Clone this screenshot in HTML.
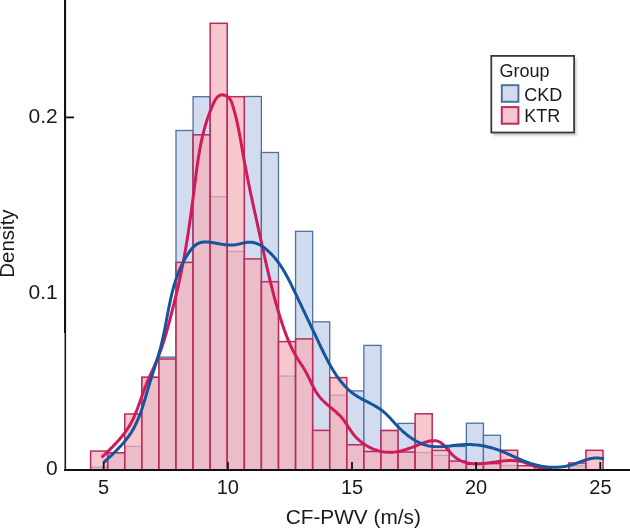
<!DOCTYPE html>
<html><head><meta charset="utf-8"><style>
html,body{margin:0;padding:0;background:#fff;width:630px;height:529px;overflow:hidden;position:relative}
</style></head><body>
<svg width="630" height="529" viewBox="0 0 630 529" style="position:absolute;left:0;top:0;will-change:transform">
<rect width="630" height="529" fill="#ffffff"/>
<rect x="90.60" y="467.30" width="17.08" height="2.70" fill="#d2dcee" stroke="#4d72a2" stroke-width="1.3"/>
<rect x="107.68" y="452.80" width="17.08" height="17.20" fill="#d2dcee" stroke="#4d72a2" stroke-width="1.3"/>
<rect x="124.76" y="446.40" width="17.08" height="23.60" fill="#d2dcee" stroke="#4d72a2" stroke-width="1.3"/>
<rect x="141.84" y="377.30" width="17.08" height="92.70" fill="#d2dcee" stroke="#4d72a2" stroke-width="1.3"/>
<rect x="158.92" y="357.10" width="17.08" height="112.90" fill="#d2dcee" stroke="#4d72a2" stroke-width="1.3"/>
<rect x="176.00" y="130.50" width="17.08" height="339.50" fill="#d2dcee" stroke="#4d72a2" stroke-width="1.3"/>
<rect x="193.08" y="96.70" width="17.08" height="373.30" fill="#d2dcee" stroke="#4d72a2" stroke-width="1.3"/>
<rect x="210.16" y="196.70" width="17.08" height="273.30" fill="#d2dcee" stroke="#4d72a2" stroke-width="1.3"/>
<rect x="227.24" y="251.50" width="17.08" height="218.50" fill="#d2dcee" stroke="#4d72a2" stroke-width="1.3"/>
<rect x="244.32" y="96.50" width="17.08" height="373.50" fill="#d2dcee" stroke="#4d72a2" stroke-width="1.3"/>
<rect x="261.40" y="152.50" width="17.08" height="317.50" fill="#d2dcee" stroke="#4d72a2" stroke-width="1.3"/>
<rect x="278.48" y="376.10" width="17.08" height="93.90" fill="#d2dcee" stroke="#4d72a2" stroke-width="1.3"/>
<rect x="295.56" y="231.30" width="17.08" height="238.70" fill="#d2dcee" stroke="#4d72a2" stroke-width="1.3"/>
<rect x="312.64" y="321.80" width="17.08" height="148.20" fill="#d2dcee" stroke="#4d72a2" stroke-width="1.3"/>
<rect x="329.72" y="395.20" width="17.08" height="74.80" fill="#d2dcee" stroke="#4d72a2" stroke-width="1.3"/>
<rect x="346.80" y="390.90" width="17.08" height="79.10" fill="#d2dcee" stroke="#4d72a2" stroke-width="1.3"/>
<rect x="363.88" y="345.40" width="17.08" height="124.60" fill="#d2dcee" stroke="#4d72a2" stroke-width="1.3"/>
<rect x="380.96" y="430.50" width="17.08" height="39.50" fill="#d2dcee" stroke="#4d72a2" stroke-width="1.3"/>
<rect x="398.04" y="423.40" width="17.08" height="46.60" fill="#d2dcee" stroke="#4d72a2" stroke-width="1.3"/>
<rect x="415.12" y="452.50" width="17.08" height="17.50" fill="#d2dcee" stroke="#4d72a2" stroke-width="1.3"/>
<rect x="432.20" y="455.50" width="17.08" height="14.50" fill="#d2dcee" stroke="#4d72a2" stroke-width="1.3"/>
<rect x="449.28" y="446.50" width="17.08" height="23.50" fill="#d2dcee" stroke="#4d72a2" stroke-width="1.3"/>
<rect x="466.36" y="423.20" width="17.08" height="46.80" fill="#d2dcee" stroke="#4d72a2" stroke-width="1.3"/>
<rect x="483.44" y="435.30" width="17.08" height="34.70" fill="#d2dcee" stroke="#4d72a2" stroke-width="1.3"/>
<rect x="500.52" y="465.50" width="17.08" height="4.50" fill="#d2dcee" stroke="#4d72a2" stroke-width="1.3"/>
<rect x="568.84" y="465.80" width="17.08" height="4.20" fill="#d2dcee" stroke="#4d72a2" stroke-width="1.3"/>
<rect x="90.60" y="451.10" width="17.08" height="18.90" fill="rgba(243,178,186,0.72)" stroke="#bc2a5e" stroke-width="1.5"/>
<rect x="107.68" y="452.80" width="17.08" height="17.20" fill="rgba(243,178,186,0.72)" stroke="#bc2a5e" stroke-width="1.5"/>
<rect x="124.76" y="414.00" width="17.08" height="56.00" fill="rgba(243,178,186,0.72)" stroke="#bc2a5e" stroke-width="1.5"/>
<rect x="141.84" y="377.30" width="17.08" height="92.70" fill="rgba(243,178,186,0.72)" stroke="#bc2a5e" stroke-width="1.5"/>
<rect x="158.92" y="359.00" width="17.08" height="111.00" fill="rgba(243,178,186,0.72)" stroke="#bc2a5e" stroke-width="1.5"/>
<rect x="176.00" y="262.40" width="17.08" height="207.60" fill="rgba(243,178,186,0.72)" stroke="#bc2a5e" stroke-width="1.5"/>
<rect x="193.08" y="134.80" width="17.08" height="335.20" fill="rgba(243,178,186,0.72)" stroke="#bc2a5e" stroke-width="1.5"/>
<rect x="210.16" y="23.30" width="17.08" height="446.70" fill="rgba(243,178,186,0.72)" stroke="#bc2a5e" stroke-width="1.5"/>
<rect x="227.24" y="96.70" width="17.08" height="373.30" fill="rgba(243,178,186,0.72)" stroke="#bc2a5e" stroke-width="1.5"/>
<rect x="244.32" y="258.90" width="17.08" height="211.10" fill="rgba(243,178,186,0.72)" stroke="#bc2a5e" stroke-width="1.5"/>
<rect x="261.40" y="281.70" width="17.08" height="188.30" fill="rgba(243,178,186,0.72)" stroke="#bc2a5e" stroke-width="1.5"/>
<rect x="278.48" y="341.60" width="17.08" height="128.40" fill="rgba(243,178,186,0.72)" stroke="#bc2a5e" stroke-width="1.5"/>
<rect x="295.56" y="338.90" width="17.08" height="131.10" fill="rgba(243,178,186,0.72)" stroke="#bc2a5e" stroke-width="1.5"/>
<rect x="312.64" y="430.40" width="17.08" height="39.60" fill="rgba(243,178,186,0.72)" stroke="#bc2a5e" stroke-width="1.5"/>
<rect x="329.72" y="377.60" width="17.08" height="92.40" fill="rgba(243,178,186,0.72)" stroke="#bc2a5e" stroke-width="1.5"/>
<rect x="346.80" y="444.80" width="17.08" height="25.20" fill="rgba(243,178,186,0.72)" stroke="#bc2a5e" stroke-width="1.5"/>
<rect x="363.88" y="451.50" width="17.08" height="18.50" fill="rgba(243,178,186,0.72)" stroke="#bc2a5e" stroke-width="1.5"/>
<rect x="380.96" y="430.50" width="17.08" height="39.50" fill="rgba(243,178,186,0.72)" stroke="#bc2a5e" stroke-width="1.5"/>
<rect x="398.04" y="452.00" width="17.08" height="18.00" fill="rgba(243,178,186,0.72)" stroke="#bc2a5e" stroke-width="1.5"/>
<rect x="415.12" y="413.80" width="17.08" height="56.20" fill="rgba(243,178,186,0.72)" stroke="#bc2a5e" stroke-width="1.5"/>
<rect x="432.20" y="450.40" width="17.08" height="19.60" fill="rgba(243,178,186,0.72)" stroke="#bc2a5e" stroke-width="1.5"/>
<rect x="449.28" y="461.10" width="17.08" height="8.90" fill="rgba(243,178,186,0.72)" stroke="#bc2a5e" stroke-width="1.5"/>
<rect x="466.36" y="464.30" width="17.08" height="5.70" fill="rgba(243,178,186,0.72)" stroke="#bc2a5e" stroke-width="1.5"/>
<rect x="483.44" y="463.60" width="17.08" height="6.40" fill="rgba(243,178,186,0.72)" stroke="#bc2a5e" stroke-width="1.5"/>
<rect x="500.52" y="450.30" width="17.08" height="19.70" fill="rgba(243,178,186,0.72)" stroke="#bc2a5e" stroke-width="1.5"/>
<rect x="517.60" y="465.70" width="17.08" height="4.30" fill="rgba(243,178,186,0.72)" stroke="#bc2a5e" stroke-width="1.5"/>
<rect x="568.84" y="463.00" width="17.08" height="7.00" fill="rgba(243,178,186,0.72)" stroke="#bc2a5e" stroke-width="1.5"/>
<rect x="585.92" y="450.30" width="17.08" height="19.70" fill="rgba(243,178,186,0.72)" stroke="#bc2a5e" stroke-width="1.5"/>
<path d="M101.69,457.33 L102.69,456.40 L103.69,455.46 L104.70,454.51 L105.70,453.55 L106.71,452.59 L107.71,451.63 L108.71,450.65 L109.72,449.67 L110.71,448.68 L111.71,447.68 L112.69,446.68 L113.68,445.66 L114.65,444.64 L115.62,443.61 L116.58,442.57 L117.53,441.53 L118.47,440.47 L119.40,439.41 L120.32,438.33 L121.22,437.25 L122.11,436.16 L122.99,435.05 L123.85,433.94 L124.69,432.82 L125.52,431.68 L126.33,430.54 L127.12,429.39 L127.89,428.22 L128.64,427.04 L129.37,425.86 L130.08,424.66 L130.76,423.44 L131.42,422.22 L132.06,420.99 L132.69,419.75 L133.29,418.50 L133.88,417.24 L134.45,415.97 L135.01,414.69 L135.55,413.41 L136.08,412.12 L136.60,410.82 L137.10,409.52 L137.60,408.21 L138.09,406.90 L138.58,405.59 L139.05,404.27 L139.52,402.95 L139.99,401.63 L140.46,400.30 L140.92,398.97 L141.38,397.65 L141.85,396.32 L142.31,394.99 L142.78,393.67 L143.26,392.34 L143.73,391.02 L144.22,389.70 L144.71,388.38 L145.21,387.07 L145.72,385.76 L146.24,384.45 L146.77,383.15 L147.31,381.86 L147.86,380.57 L148.42,379.28 L148.98,377.99 L149.55,376.71 L150.13,375.43 L150.70,374.15 L151.28,372.88 L151.86,371.60 L152.44,370.33 L153.02,369.05 L153.60,367.77 L154.17,366.49 L154.74,365.21 L155.30,363.93 L155.86,362.65 L156.41,361.36 L156.95,360.07 L157.48,358.77 L158.00,357.48 L158.51,356.18 L159.01,354.87 L159.50,353.56 L159.99,352.25 L160.47,350.94 L160.94,349.62 L161.40,348.30 L161.86,346.98 L162.31,345.66 L162.75,344.33 L163.18,343.00 L163.61,341.67 L164.04,340.33 L164.45,339.00 L164.86,337.66 L165.27,336.32 L165.67,334.98 L166.06,333.63 L166.46,332.29 L166.84,330.94 L167.22,329.60 L167.60,328.25 L167.97,326.90 L168.34,325.54 L168.71,324.19 L169.07,322.84 L169.43,321.48 L169.78,320.13 L170.14,318.77 L170.49,317.42 L170.84,316.06 L171.19,314.71 L171.53,313.35 L171.88,311.99 L172.22,310.63 L172.56,309.28 L172.90,307.92 L173.24,306.56 L173.58,305.21 L173.91,303.85 L174.25,302.49 L174.58,301.13 L174.91,299.78 L175.25,298.42 L175.57,297.06 L175.90,295.70 L176.23,294.35 L176.55,292.99 L176.87,291.63 L177.19,290.27 L177.51,288.91 L177.83,287.55 L178.14,286.19 L178.45,284.83 L178.76,283.47 L179.07,282.10 L179.37,280.74 L179.67,279.38 L179.97,278.01 L180.27,276.65 L180.56,275.28 L180.85,273.91 L181.14,272.54 L181.42,271.17 L181.70,269.80 L181.98,268.43 L182.26,267.06 L182.53,265.69 L182.80,264.31 L183.06,262.94 L183.33,261.56 L183.59,260.18 L183.84,258.81 L184.10,257.43 L184.35,256.05 L184.60,254.67 L184.85,253.29 L185.09,251.91 L185.33,250.53 L185.57,249.14 L185.81,247.76 L186.04,246.38 L186.28,244.99 L186.51,243.61 L186.73,242.22 L186.96,240.83 L187.18,239.45 L187.40,238.06 L187.62,236.67 L187.84,235.29 L188.06,233.90 L188.27,232.51 L188.48,231.12 L188.69,229.73 L188.90,228.34 L189.10,226.95 L189.31,225.56 L189.51,224.17 L189.71,222.78 L189.91,221.39 L190.11,220.00 L190.30,218.61 L190.50,217.22 L190.69,215.83 L190.88,214.44 L191.07,213.05 L191.26,211.66 L191.45,210.27 L191.64,208.88 L191.82,207.49 L192.01,206.10 L192.19,204.71 L192.38,203.32 L192.56,201.93 L192.74,200.54 L192.92,199.15 L193.10,197.76 L193.28,196.37 L193.45,194.98 L193.63,193.59 L193.81,192.21 L193.98,190.82 L194.16,189.43 L194.33,188.05 L194.51,186.66 L194.68,185.27 L194.85,183.89 L195.03,182.51 L195.20,181.12 L195.37,179.74 L195.55,178.36 L195.72,176.97 L195.90,175.59 L196.08,174.21 L196.25,172.83 L196.44,171.45 L196.62,170.07 L196.80,168.69 L196.99,167.31 L197.18,165.94 L197.38,164.56 L197.58,163.18 L197.78,161.81 L197.98,160.43 L198.19,159.06 L198.41,157.68 L198.62,156.31 L198.85,154.94 L199.08,153.57 L199.31,152.19 L199.55,150.82 L199.80,149.45 L200.05,148.08 L200.31,146.71 L200.57,145.34 L200.85,143.98 L201.13,142.61 L201.41,141.24 L201.71,139.88 L202.01,138.51 L202.32,137.15 L202.64,135.78 L202.97,134.42 L203.31,133.06 L203.66,131.69 L204.01,130.33 L204.38,128.97 L204.75,127.61 L205.14,126.25 L205.54,124.89 L205.95,123.54 L206.37,122.18 L206.80,120.82 L207.24,119.47 L207.69,118.11 L208.16,116.76 L208.64,115.40 L209.13,114.05 L209.63,112.70 L210.15,111.35 L210.68,109.99 L211.22,108.64 L211.78,107.29 L212.35,105.95 L212.94,104.60 L213.54,103.25 L214.17,101.94 L214.83,100.66 L215.53,99.46 L216.28,98.35 L217.08,97.35 L217.95,96.48 L218.89,95.78 L219.91,95.25 L221.03,94.92 L222.24,94.82 L223.54,94.96 L224.89,95.31 L226.22,95.86 L227.48,96.60 L228.62,97.49 L229.59,98.53 L230.39,99.68 L231.05,100.92 L231.60,102.24 L232.08,103.60 L232.52,104.97 L232.95,106.36 L233.36,107.74 L233.76,109.11 L234.15,110.49 L234.53,111.87 L234.90,113.25 L235.26,114.63 L235.61,116.00 L235.95,117.38 L236.28,118.76 L236.60,120.13 L236.92,121.51 L237.23,122.88 L237.53,124.25 L237.82,125.63 L238.11,127.00 L238.39,128.37 L238.67,129.75 L238.94,131.12 L239.21,132.49 L239.47,133.86 L239.72,135.23 L239.98,136.61 L240.23,137.98 L240.48,139.35 L240.72,140.72 L240.96,142.09 L241.21,143.46 L241.44,144.83 L241.68,146.20 L241.92,147.57 L242.16,148.94 L242.39,150.31 L242.63,151.68 L242.87,153.05 L243.11,154.42 L243.35,155.79 L243.60,157.17 L243.84,158.54 L244.09,159.91 L244.34,161.28 L244.59,162.65 L244.85,164.02 L245.10,165.39 L245.36,166.77 L245.62,168.14 L245.88,169.51 L246.15,170.88 L246.41,172.25 L246.68,173.63 L246.95,175.00 L247.22,176.37 L247.49,177.74 L247.77,179.12 L248.05,180.49 L248.32,181.86 L248.60,183.23 L248.88,184.61 L249.16,185.98 L249.45,187.35 L249.73,188.73 L250.02,190.10 L250.30,191.47 L250.59,192.84 L250.88,194.22 L251.17,195.59 L251.46,196.96 L251.76,198.34 L252.05,199.71 L252.34,201.08 L252.64,202.45 L252.94,203.83 L253.23,205.20 L253.53,206.57 L253.83,207.94 L254.13,209.32 L254.43,210.69 L254.73,212.06 L255.03,213.43 L255.33,214.80 L255.63,216.18 L255.93,217.55 L256.24,218.92 L256.54,220.29 L256.84,221.66 L257.14,223.03 L257.45,224.41 L257.75,225.78 L258.05,227.15 L258.36,228.52 L258.66,229.89 L258.97,231.26 L259.27,232.63 L259.57,234.00 L259.88,235.37 L260.18,236.74 L260.48,238.11 L260.78,239.48 L261.09,240.85 L261.39,242.21 L261.69,243.58 L261.99,244.95 L262.29,246.32 L262.59,247.69 L262.90,249.05 L263.20,250.42 L263.50,251.79 L263.80,253.15 L264.10,254.52 L264.41,255.89 L264.71,257.25 L265.02,258.62 L265.32,259.98 L265.63,261.35 L265.94,262.71 L266.24,264.08 L266.55,265.44 L266.87,266.80 L267.18,268.16 L267.49,269.53 L267.81,270.89 L268.12,272.25 L268.44,273.61 L268.76,274.97 L269.08,276.33 L269.41,277.69 L269.73,279.05 L270.06,280.41 L270.39,281.77 L270.72,283.12 L271.05,284.48 L271.39,285.84 L271.73,287.19 L272.07,288.55 L272.42,289.90 L272.76,291.26 L273.11,292.61 L273.47,293.97 L273.82,295.32 L274.18,296.67 L274.54,298.02 L274.91,299.37 L275.28,300.72 L275.65,302.07 L276.03,303.42 L276.40,304.77 L276.79,306.12 L277.17,307.46 L277.56,308.81 L277.96,310.16 L278.36,311.50 L278.76,312.84 L279.16,314.19 L279.58,315.53 L279.99,316.87 L280.41,318.21 L280.83,319.55 L281.26,320.89 L281.70,322.23 L282.13,323.57 L282.58,324.91 L283.03,326.24 L283.48,327.57 L283.95,328.90 L284.41,330.23 L284.89,331.56 L285.38,332.88 L285.87,334.20 L286.37,335.51 L286.88,336.82 L287.39,338.13 L287.92,339.43 L288.46,340.72 L289.01,342.02 L289.57,343.30 L290.14,344.58 L290.72,345.85 L291.31,347.12 L291.91,348.38 L292.53,349.63 L293.16,350.88 L293.80,352.12 L294.46,353.35 L295.13,354.57 L295.81,355.78 L296.51,356.99 L297.23,358.18 L297.96,359.37 L298.70,360.54 L299.46,361.71 L300.22,362.88 L300.99,364.04 L301.75,365.20 L302.51,366.37 L303.26,367.55 L304.00,368.74 L304.72,369.94 L305.42,371.15 L306.09,372.38 L306.75,373.62 L307.39,374.87 L308.02,376.13 L308.64,377.40 L309.26,378.67 L309.87,379.95 L310.48,381.22 L311.09,382.49 L311.70,383.76 L312.33,385.02 L312.96,386.28 L313.61,387.52 L314.27,388.75 L314.95,389.97 L315.65,391.17 L316.38,392.36 L317.13,393.52 L317.92,394.67 L318.73,395.78 L319.58,396.88 L320.47,397.94 L321.40,398.98 L322.36,399.99 L323.35,400.98 L324.36,401.96 L325.40,402.91 L326.45,403.86 L327.52,404.79 L328.60,405.71 L329.69,406.63 L330.78,407.55 L331.88,408.46 L332.97,409.37 L334.06,410.29 L335.13,411.22 L336.20,412.16 L337.24,413.11 L338.27,414.07 L339.27,415.05 L340.25,416.05 L341.20,417.08 L342.11,418.13 L342.98,419.20 L343.83,420.30 L344.64,421.42 L345.44,422.55 L346.21,423.70 L346.98,424.86 L347.74,426.03 L348.49,427.19 L349.25,428.36 L350.01,429.52 L350.79,430.68 L351.59,431.82 L352.41,432.94 L353.25,434.05 L354.13,435.14 L355.04,436.20 L355.99,437.24 L356.98,438.24 L357.99,439.22 L359.04,440.18 L360.12,441.10 L361.22,441.99 L362.36,442.85 L363.51,443.68 L364.70,444.48 L365.90,445.24 L367.13,445.97 L368.37,446.66 L369.64,447.32 L370.92,447.94 L372.22,448.52 L373.53,449.07 L374.85,449.58 L376.19,450.04 L377.53,450.47 L378.89,450.85 L380.25,451.19 L381.62,451.49 L382.99,451.75 L384.36,451.96 L385.74,452.12 L387.11,452.24 L388.49,452.31 L389.86,452.34 L391.23,452.31 L392.59,452.24 L393.95,452.12 L395.31,451.96 L396.66,451.77 L398.01,451.53 L399.36,451.26 L400.71,450.95 L402.05,450.61 L403.39,450.25 L404.73,449.86 L406.07,449.44 L407.41,449.00 L408.75,448.54 L410.08,448.07 L411.42,447.58 L412.76,447.07 L414.10,446.56 L415.43,446.03 L416.77,445.50 L418.11,444.97 L419.46,444.44 L420.80,443.90 L422.14,443.38 L423.48,442.88 L424.82,442.41 L426.15,441.98 L427.47,441.59 L428.78,441.25 L430.07,440.98 L431.36,440.78 L432.62,440.66 L433.87,440.63 L435.10,440.69 L436.31,440.86 L437.49,441.15 L438.65,441.56 L439.77,442.09 L440.88,442.77 L441.95,443.56 L443.01,444.46 L444.05,445.45 L445.07,446.51 L446.09,447.62 L447.11,448.78 L448.12,449.96 L449.14,451.15 L450.17,452.33 L451.22,453.49 L452.28,454.61 L453.36,455.67 L454.47,456.66 L455.60,457.57 L456.76,458.41 L457.95,459.17 L459.15,459.87 L460.38,460.50 L461.63,461.06 L462.90,461.57 L464.18,462.02 L465.49,462.40 L466.80,462.74 L468.13,463.02 L469.48,463.26 L470.83,463.45 L472.19,463.59 L473.57,463.70 L474.94,463.77 L476.33,463.80 L477.72,463.79 L479.11,463.76 L480.50,463.70 L481.90,463.61 L483.29,463.50 L484.69,463.37 L486.08,463.22 L487.47,463.06 L488.86,462.88 L490.25,462.70 L491.64,462.51 L493.03,462.31 L494.41,462.11 L495.80,461.91 L497.18,461.71 L498.57,461.53 L499.95,461.35 L501.33,461.18 L502.71,461.02 L504.09,460.88 L505.47,460.76 L506.84,460.67 L508.22,460.59 L509.59,460.55 L510.96,460.53 L512.33,460.55 L513.70,460.60 L515.07,460.69 L516.44,460.82 L517.80,460.99 L519.16,461.21 L520.53,461.48 L521.89,461.80 L523.25,462.17 L524.60,462.58 L525.96,463.03 L527.32,463.51 L528.67,464.01 L530.03,464.53 L531.38,465.05 L532.74,465.58 L534.10,466.09 L535.46,466.60 L536.82,467.08 L538.18,467.53 L539.55,467.95 L540.92,468.32 L542.29,468.64 L543.66,468.90 L545.04,469.10 L546.42,469.23 L547.81,469.27 L549.20,469.23 L550.59,469.09 L551.99,468.85" fill="none" stroke="#d01a5a" stroke-width="3" stroke-linejoin="round" stroke-linecap="butt"/>
<path d="M103.61,462.62 L104.38,461.90 L105.15,461.18 L105.92,460.46 L106.70,459.73 L107.48,459.00 L108.27,458.27 L109.05,457.53 L109.84,456.79 L110.63,456.05 L111.42,455.30 L112.21,454.55 L112.99,453.79 L113.78,453.03 L114.56,452.26 L115.35,451.49 L116.13,450.72 L116.90,449.94 L117.68,449.16 L118.44,448.37 L119.21,447.57 L119.96,446.77 L120.71,445.96 L121.46,445.15 L122.19,444.33 L122.92,443.51 L123.64,442.68 L124.35,441.85 L125.05,441.00 L125.75,440.15 L126.43,439.30 L127.10,438.44 L127.75,437.57 L128.40,436.69 L129.03,435.81 L129.65,434.92 L130.25,434.02 L130.84,433.11 L131.42,432.20 L131.99,431.28 L132.54,430.35 L133.07,429.42 L133.60,428.48 L134.11,427.53 L134.61,426.58 L135.10,425.62 L135.58,424.65 L136.05,423.68 L136.50,422.71 L136.95,421.73 L137.39,420.74 L137.82,419.75 L138.24,418.76 L138.65,417.76 L139.05,416.75 L139.44,415.74 L139.83,414.73 L140.21,413.72 L140.58,412.70 L140.95,411.67 L141.31,410.65 L141.66,409.62 L142.01,408.59 L142.35,407.55 L142.69,406.52 L143.02,405.48 L143.35,404.44 L143.68,403.40 L144.00,402.35 L144.32,401.31 L144.64,400.26 L144.95,399.21 L145.26,398.16 L145.57,397.11 L145.88,396.06 L146.19,395.01 L146.49,393.96 L146.80,392.91 L147.11,391.86 L147.41,390.81 L147.72,389.77 L148.03,388.72 L148.34,387.67 L148.65,386.63 L148.97,385.58 L149.28,384.54 L149.60,383.50 L149.92,382.46 L150.24,381.42 L150.56,380.38 L150.89,379.34 L151.21,378.31 L151.54,377.27 L151.87,376.24 L152.20,375.20 L152.53,374.17 L152.86,373.14 L153.19,372.11 L153.51,371.08 L153.84,370.05 L154.17,369.02 L154.50,367.99 L154.83,366.96 L155.15,365.92 L155.48,364.89 L155.80,363.86 L156.12,362.83 L156.44,361.80 L156.76,360.77 L157.08,359.74 L157.39,358.70 L157.70,357.67 L158.01,356.63 L158.32,355.60 L158.62,354.56 L158.92,353.52 L159.22,352.49 L159.51,351.45 L159.80,350.40 L160.09,349.36 L160.37,348.32 L160.65,347.27 L160.92,346.22 L161.19,345.17 L161.46,344.12 L161.71,343.07 L161.97,342.02 L162.22,340.96 L162.46,339.90 L162.70,338.84 L162.94,337.78 L163.18,336.72 L163.41,335.65 L163.63,334.59 L163.86,333.52 L164.08,332.45 L164.30,331.38 L164.51,330.31 L164.73,329.24 L164.94,328.17 L165.15,327.10 L165.35,326.02 L165.56,324.95 L165.77,323.87 L165.97,322.80 L166.17,321.72 L166.38,320.65 L166.58,319.57 L166.78,318.50 L166.98,317.42 L167.19,316.34 L167.39,315.27 L167.59,314.19 L167.80,313.11 L168.00,312.04 L168.21,310.96 L168.42,309.89 L168.63,308.81 L168.84,307.74 L169.05,306.67 L169.27,305.59 L169.49,304.52 L169.71,303.45 L169.93,302.38 L170.16,301.31 L170.39,300.25 L170.63,299.18 L170.87,298.11 L171.11,297.05 L171.35,295.99 L171.60,294.93 L171.86,293.87 L172.12,292.81 L172.38,291.75 L172.65,290.70 L172.93,289.64 L173.21,288.59 L173.50,287.54 L173.79,286.50 L174.09,285.45 L174.39,284.41 L174.71,283.37 L175.03,282.33 L175.35,281.30 L175.68,280.27 L176.03,279.24 L176.37,278.21 L176.73,277.18 L177.09,276.16 L177.47,275.14 L177.85,274.13 L178.24,273.12 L178.64,272.11 L179.04,271.10 L179.46,270.10 L179.89,269.10 L180.33,268.10 L180.77,267.11 L181.23,266.12 L181.70,265.13 L182.17,264.15 L182.66,263.17 L183.16,262.20 L183.67,261.23 L184.19,260.26 L184.73,259.30 L185.27,258.34 L185.83,257.39 L186.40,256.44 L186.98,255.50 L187.57,254.56 L188.18,253.62 L188.80,252.69 L189.44,251.78 L190.09,250.87 L190.76,249.99 L191.44,249.14 L192.14,248.31 L192.87,247.52 L193.61,246.76 L194.37,246.04 L195.16,245.38 L195.97,244.76 L196.80,244.19 L197.66,243.69 L198.55,243.25 L199.46,242.88 L200.40,242.57 L201.37,242.33 L202.35,242.16 L203.36,242.04 L204.39,241.97 L205.43,241.94 L206.49,241.96 L207.55,242.02 L208.63,242.10 L209.71,242.22 L210.80,242.36 L211.89,242.52 L212.97,242.70 L214.06,242.88 L215.14,243.07 L216.22,243.26 L217.30,243.46 L218.37,243.66 L219.44,243.85 L220.51,244.04 L221.58,244.22 L222.65,244.39 L223.72,244.55 L224.78,244.69 L225.85,244.82 L226.91,244.93 L227.97,245.01 L229.04,245.07 L230.10,245.10 L231.17,245.11 L232.23,245.08 L233.30,245.01 L234.36,244.91 L235.43,244.77 L236.50,244.60 L237.57,244.39 L238.64,244.16 L239.71,243.91 L240.78,243.66 L241.84,243.40 L242.91,243.15 L243.97,242.91 L245.03,242.69 L246.08,242.50 L247.12,242.35 L248.17,242.24 L249.20,242.18 L250.23,242.18 L251.25,242.23 L252.26,242.34 L253.27,242.51 L254.26,242.73 L255.25,243.00 L256.23,243.32 L257.20,243.68 L258.16,244.09 L259.11,244.54 L260.04,245.02 L260.97,245.55 L261.89,246.11 L262.80,246.70 L263.69,247.32 L264.57,247.96 L265.44,248.64 L266.30,249.33 L267.14,250.05 L267.97,250.79 L268.79,251.54 L269.60,252.30 L270.39,253.08 L271.16,253.87 L271.92,254.66 L272.67,255.47 L273.40,256.29 L274.13,257.11 L274.83,257.95 L275.53,258.79 L276.21,259.64 L276.89,260.50 L277.55,261.37 L278.20,262.25 L278.84,263.13 L279.47,264.02 L280.09,264.92 L280.70,265.82 L281.30,266.73 L281.89,267.65 L282.47,268.57 L283.04,269.50 L283.61,270.43 L284.17,271.36 L284.72,272.31 L285.26,273.25 L285.80,274.20 L286.33,275.16 L286.85,276.12 L287.37,277.08 L287.88,278.04 L288.39,279.01 L288.89,279.98 L289.39,280.95 L289.88,281.93 L290.37,282.91 L290.86,283.88 L291.34,284.86 L291.82,285.84 L292.30,286.83 L292.78,287.81 L293.25,288.79 L293.72,289.77 L294.20,290.75 L294.67,291.73 L295.13,292.72 L295.60,293.70 L296.07,294.67 L296.54,295.65 L297.01,296.63 L297.47,297.61 L297.94,298.59 L298.40,299.56 L298.87,300.54 L299.33,301.52 L299.79,302.49 L300.26,303.47 L300.72,304.44 L301.18,305.42 L301.65,306.39 L302.11,307.36 L302.57,308.34 L303.03,309.31 L303.49,310.29 L303.95,311.26 L304.41,312.23 L304.88,313.21 L305.34,314.18 L305.80,315.15 L306.26,316.13 L306.72,317.10 L307.18,318.08 L307.64,319.05 L308.10,320.02 L308.56,321.00 L309.02,321.97 L309.48,322.95 L309.94,323.92 L310.41,324.90 L310.87,325.88 L311.33,326.85 L311.79,327.83 L312.25,328.81 L312.72,329.79 L313.18,330.77 L313.64,331.74 L314.11,332.72 L314.57,333.70 L315.04,334.69 L315.50,335.67 L315.97,336.65 L316.44,337.63 L316.90,338.62 L317.37,339.60 L317.84,340.59 L318.31,341.58 L318.78,342.56 L319.25,343.55 L319.72,344.54 L320.19,345.53 L320.67,346.52 L321.14,347.52 L321.62,348.51 L322.10,349.50 L322.57,350.49 L323.06,351.49 L323.54,352.48 L324.03,353.47 L324.51,354.46 L325.01,355.44 L325.50,356.43 L326.00,357.41 L326.50,358.40 L327.01,359.38 L327.52,360.35 L328.03,361.32 L328.55,362.29 L329.07,363.26 L329.60,364.22 L330.13,365.18 L330.67,366.13 L331.22,367.08 L331.77,368.03 L332.32,368.97 L332.88,369.90 L333.45,370.83 L334.03,371.75 L334.61,372.67 L335.20,373.58 L335.80,374.48 L336.40,375.37 L337.01,376.26 L337.63,377.14 L338.26,378.01 L338.90,378.88 L339.54,379.73 L340.20,380.58 L340.86,381.42 L341.54,382.25 L342.22,383.07 L342.91,383.88 L343.61,384.68 L344.33,385.47 L345.05,386.25 L345.79,387.02 L346.53,387.77 L347.29,388.52 L348.06,389.25 L348.84,389.97 L349.64,390.67 L350.44,391.37 L351.26,392.05 L352.09,392.71 L352.94,393.36 L353.80,394.00 L354.67,394.62 L355.56,395.23 L356.46,395.82 L357.38,396.39 L358.30,396.96 L359.24,397.51 L360.18,398.05 L361.14,398.59 L362.10,399.12 L363.06,399.64 L364.03,400.15 L365.01,400.66 L365.99,401.17 L366.97,401.68 L367.95,402.18 L368.93,402.69 L369.91,403.20 L370.89,403.71 L371.86,404.22 L372.83,404.74 L373.79,405.27 L374.75,405.80 L375.69,406.35 L376.63,406.90 L377.56,407.47 L378.48,408.04 L379.39,408.63 L380.28,409.24 L381.16,409.86 L382.02,410.50 L382.87,411.15 L383.69,411.83 L384.51,412.52 L385.30,413.24 L386.09,413.96 L386.86,414.71 L387.62,415.46 L388.37,416.23 L389.11,417.01 L389.85,417.79 L390.58,418.59 L391.31,419.39 L392.04,420.19 L392.77,421.00 L393.50,421.81 L394.23,422.62 L394.96,423.44 L395.70,424.25 L396.45,425.05 L397.20,425.85 L397.97,426.65 L398.74,427.44 L399.53,428.22 L400.32,429.00 L401.12,429.77 L401.93,430.53 L402.75,431.28 L403.58,432.02 L404.42,432.74 L405.26,433.46 L406.12,434.17 L406.98,434.86 L407.85,435.54 L408.73,436.21 L409.62,436.86 L410.51,437.50 L411.42,438.12 L412.33,438.72 L413.25,439.31 L414.17,439.88 L415.11,440.43 L416.05,440.97 L417.00,441.48 L417.95,441.98 L418.92,442.45 L419.89,442.90 L420.87,443.34 L421.85,443.74 L422.84,444.13 L423.84,444.49 L424.84,444.83 L425.86,445.14 L426.87,445.43 L427.90,445.69 L428.93,445.92 L429.96,446.13 L431.01,446.31 L432.05,446.46 L433.11,446.58 L434.17,446.68 L435.23,446.74 L436.30,446.79 L437.38,446.81 L438.46,446.81 L439.54,446.79 L440.63,446.75 L441.72,446.70 L442.81,446.63 L443.91,446.55 L445.00,446.46 L446.10,446.35 L447.21,446.24 L448.31,446.12 L449.42,446.00 L450.52,445.87 L451.63,445.74 L452.74,445.61 L453.84,445.48 L454.95,445.35 L456.06,445.23 L457.16,445.11 L458.27,445.00 L459.37,444.90 L460.47,444.81 L461.57,444.74 L462.67,444.67 L463.76,444.62 L464.85,444.58 L465.94,444.55 L467.03,444.54 L468.12,444.54 L469.20,444.55 L470.28,444.57 L471.36,444.61 L472.44,444.66 L473.51,444.72 L474.58,444.79 L475.65,444.88 L476.72,444.98 L477.78,445.10 L478.84,445.22 L479.90,445.36 L480.96,445.51 L482.02,445.68 L483.07,445.85 L484.12,446.05 L485.17,446.25 L486.21,446.46 L487.25,446.69 L488.30,446.94 L489.33,447.19 L490.37,447.46 L491.40,447.74 L492.43,448.03 L493.46,448.34 L494.48,448.66 L495.51,448.99 L496.53,449.34 L497.55,449.69 L498.56,450.06 L499.57,450.45 L500.58,450.84 L501.59,451.24 L502.60,451.65 L503.61,452.07 L504.61,452.49 L505.62,452.93 L506.62,453.36 L507.62,453.81 L508.63,454.25 L509.63,454.70 L510.63,455.16 L511.63,455.61 L512.63,456.07 L513.63,456.52 L514.64,456.98 L515.64,457.43 L516.64,457.89 L517.65,458.34 L518.66,458.78 L519.66,459.22 L520.67,459.66 L521.69,460.09 L522.70,460.51 L523.72,460.93 L524.73,461.33 L525.75,461.73 L526.78,462.12 L527.81,462.50 L528.83,462.86 L529.87,463.22 L530.90,463.56 L531.94,463.88 L532.99,464.20 L534.03,464.50 L535.08,464.78 L536.13,465.05 L537.19,465.31 L538.25,465.55 L539.30,465.78 L540.36,466.00 L541.43,466.19 L542.49,466.38 L543.56,466.55 L544.63,466.70 L545.69,466.84 L546.76,466.96 L547.83,467.06 L548.90,467.15 L549.98,467.23 L551.05,467.28 L552.12,467.32 L553.19,467.34 L554.26,467.35 L555.34,467.34 L556.41,467.31 L557.48,467.26 L558.55,467.20 L559.62,467.12 L560.68,467.02 L561.75,466.90 L562.81,466.76 L563.88,466.61 L564.94,466.43 L566.00,466.24 L567.05,466.03 L568.11,465.80 L569.16,465.55 L570.21,465.28 L571.26,464.99 L572.30,464.68 L573.34,464.35 L574.38,464.00 L575.42,463.65 L576.45,463.28 L577.48,462.90 L578.52,462.52 L579.55,462.14 L580.58,461.75 L581.61,461.38 L582.64,461.00 L583.68,460.64 L584.71,460.29 L585.75,459.95 L586.79,459.63 L587.83,459.33 L588.88,459.05 L589.92,458.80 L590.98,458.58 L592.03,458.38 L593.09,458.23 L594.16,458.10 L595.23,458.02 L596.31,457.98 L597.39,457.99 L598.48,458.04 L599.58,458.14 L600.68,458.30 L601.80,458.51 L602.92,458.79 L604.04,459.12" fill="none" stroke="#15559b" stroke-width="3" stroke-linejoin="round" stroke-linecap="butt"/>
<rect x="64" y="0" width="2.1" height="333" fill="#111"/>
<rect x="64.5" y="333" width="1.6" height="138" fill="#1a1a1a"/>
<rect x="64" y="469" width="566" height="2" fill="#111"/>
<rect x="66" y="116.5" width="8" height="1.8" fill="#111"/>
<rect x="102.8" y="462" width="1.8" height="7" fill="#111"/>
<rect x="227" y="462" width="1.8" height="7" fill="#111"/>
<rect x="351.1" y="462" width="1.8" height="7" fill="#111"/>
<rect x="475.2" y="462" width="1.8" height="7" fill="#111"/>
<rect x="599.4" y="462" width="1.8" height="7" fill="#111"/>
<g font-family='"Liberation Sans", sans-serif' font-size="21" fill="#1a1a1a">
<text x="57.8" y="123" text-anchor="end">0.2</text>
<text x="57.8" y="298.6" text-anchor="end">0.1</text>
<text x="57.8" y="474.5" text-anchor="end">0</text>
</g>
<g font-family='"Liberation Sans", sans-serif' font-size="20" fill="#1a1a1a">
<text x="103.6" y="494" text-anchor="middle">5</text>
<text x="227.8" y="494" text-anchor="middle">10</text>
<text x="352" y="494" text-anchor="middle">15</text>
<text x="476.1" y="494" text-anchor="middle">20</text>
<text x="600.4" y="494" text-anchor="middle">25</text>
</g>
<g font-family='"Liberation Sans", sans-serif' font-size="20.8" fill="#1a1a1a">
<text x="353.3" y="523.8" text-anchor="middle">CF-PWV (m/s)</text>
<text transform="translate(14,243.6) rotate(-90)" text-anchor="middle" font-size="20.5">Density</text>
</g>
<defs><filter id="sh" x="-10%" y="-10%" width="130%" height="130%"><feGaussianBlur stdDeviation="1.2"/></filter></defs>
<rect x="493" y="58.5" width="83.5" height="77" fill="#c8c8c8" filter="url(#sh)"/>
<rect x="491.3" y="55.9" width="82.8" height="76.6" fill="#ffffff" stroke="#3a3a3a" stroke-width="1.8"/>
<g font-family='"Liberation Sans", sans-serif' font-size="18" fill="#1a1a1a">
<text x="499.5" y="76.6">Group</text>
<text x="524.3" y="100.6">CKD</text>
<text x="524.3" y="122.2">KTR</text>
</g>
<rect x="501.8" y="85.2" width="16.6" height="16.6" fill="#d2dcee" stroke="#4d72a2" stroke-width="2"/>
<rect x="501.8" y="107.1" width="16.6" height="16.6" fill="#f6c8ce" stroke="#bc2a5e" stroke-width="2"/>
</svg>
</body></html>
